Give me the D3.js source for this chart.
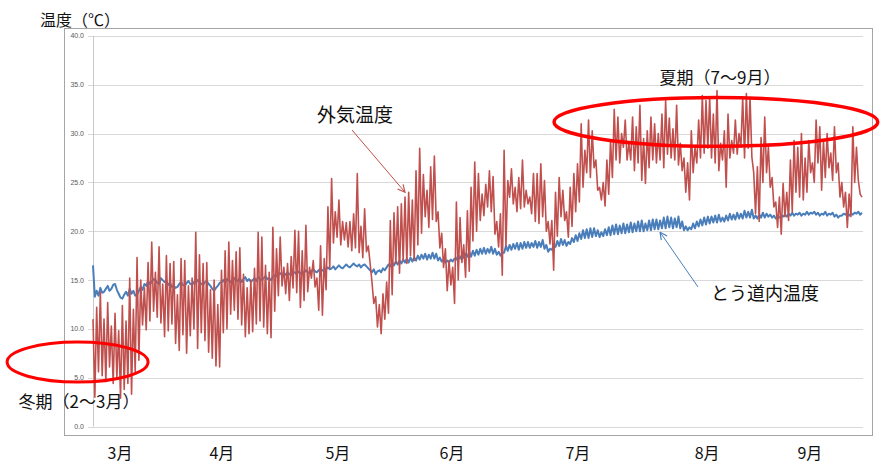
<!DOCTYPE html>
<html>
<head>
<meta charset="utf-8">
<script src="https://cdn.jsdelivr.net/npm/d3@7"></script>
<style>
  html, body { margin: 0; padding: 0; background: #fff; }
  svg { display: block; font-family: "Noto Sans CJK JP", "Noto Sans", sans-serif; }
</style>
</head>
<body>
<svg id="chart" width="880" height="464"></svg>
<script>
// Outdoor air temperature, two readings per day (afternoon high, night low), from late February
const outdoorTemp = [
  11.0,3.0, 12.2,5.6, 13.8,5.2, 11.0,4.6, 12.7,6.1, 10.3,4.4, 11.6,5.0, 9.8,2.9, 12.4,3.8, 10.8,4.4,
  15.2,3.3, 12.0,5.6, 17.3,6.8, 15.0,10.4, 14.2,9.9, 16.8,10.8, 18.9,11.8, 15.8,11.2, 18.4,10.6, 14.6,9.2,
  17.5,9.8, 16.7,10.5, 16.9,8.5, 13.5,7.8, 17.2,9.4, 17.0,7.5, 14.4,9.3, 15.2,10.0, 19.9,8.0, 17.6,9.6,
  16.7,8.8, 16.8,7.6, 14.0,7.0, 15.0,6.2, 12.5,6.1, 16.0,9.6, 18.0,10.0, 18.9,11.5, 17.0,11.9, 17.9,11.0,
  18.3,10.4, 15.6,9.2, 14.2,9.5, 15.0,9.7, 16.2,10.5, 19.9,10.8, 19.4,10.2, 16.5,9.5, 15.8,9.1, 20.4,11.8,
  18.2,13.4, 19.4,14.4, 16.3,13.6, 16.7,12.9, 17.4,14.2, 20.1,13.7, 20.0,12.2, 18.0,12.9, 20.6,13.8, 16.3,15.2,
  17.0,14.3, 15.2,11.9, 18.5,11.4, 17.2,14.0, 22.5,16.2, 25.4,18.8, 22.0,19.4, 23.2,18.6, 21.0,19.1, 20.9,18.4,
  21.0,18.0, 21.8,18.3, 25.9,17.8, 20.5,17.3, 22.3,17.9, 18.5,16.7, 14.8,12.6, 13.3,10.2, 12.5,9.5, 13.6,11.0,
  14.8,11.6, 21.1,13.5, 21.9,16.7, 22.5,15.7, 22.8,17.0, 23.5,16.7, 24.0,17.5, 23.2,17.0, 26.2,18.6, 28.5,19.8,
  25.8,21.5, 24.2,20.4, 26.6,21.2, 27.7,21.0, 22.0,18.3, 19.8,16.3, 18.2,13.9, 17.0,14.5, 16.3,12.6, 23.0,15.0,
  21.4,16.8, 18.6,15.3, 22.1,15.9, 24.5,19.0, 27.1,20.0, 25.9,21.1, 23.8,21.6, 24.8,22.5, 26.2,22.0, 25.6,19.7,
  21.0,18.4, 21.8,15.5, 28.3,18.5, 25.2,23.5, 26.4,22.8, 24.5,22.0, 25.5,22.3, 27.3,22.5, 24.2,22.8, 23.5,21.8,
  25.9,21.0, 25.9,20.8, 26.9,21.5, 25.2,20.0, 21.0,18.7, 21.1,16.0, 24.0,19.5, 25.5,21.5, 24.2,21.1, 22.0,19.4,
  24.5,20.5, 25.9,22.0, 26.9,23.0, 31.0,24.5, 28.3,26.0, 31.4,25.5, 30.3,26.5, 27.3,24.2, 24.5,23.2, 25.0,22.6,
  27.3,23.8, 29.3,25.5, 32.5,27.3, 31.7,27.0, 30.0,28.6, 31.4,27.3, 29.0,27.3, 31.7,26.2, 30.7,27.0, 32.9,25.2,
  29.5,24.9, 30.3,26.5, 31.7,27.3, 31.0,27.0, 30.0,27.3, 32.0,26.5, 33.4,27.9, 31.6,27.5, 30.5,27.3, 32.9,26.8,
  29.0,26.2, 27.5,24.0, 27.0,23.2, 30.3,26.0, 28.6,27.0, 31.4,27.5, 33.9,28.0, 33.4,28.5, 33.7,27.5, 32.0,27.0,
  34.4,26.2, 29.0,27.3, 30.3,24.5, 32.0,27.5, 29.3,28.0, 31.4,27.9, 30.0,28.6, 33.7,27.5, 34.1,28.5, 33.7,27.6,
  26.0,21.8, 26.6,21.0, 29.6,25.0, 31.7,26.0, 28.6,24.5, 25.5,22.5, 23.0,20.4, 23.5,19.7, 24.9,21.5, 24.0,21.1,
  27.3,22.0, 29.3,24.0, 28.6,23.5, 30.0,23.2, 27.5,24.0, 29.3,26.0, 27.0,25.0, 31.4,27.0, 30.7,24.2, 29.3,25.5,
  30.0,26.5, 28.0,25.2, 30.7,26.0, 27.0,23.5, 25.0,22.5, 24.0,20.4, 23.8,21.5, 30.7,25.0, 28.6,25.2, 23.8,23.5
];

// Temperature inside the utility tunnel, same sampling
const tunnelTemp = [
  16.5,13.3, 13.9,13.4, 14.2,13.7, 13.8,14.1, 14.4,13.9, 14.1,14.5, 14.6,14.0, 13.6,13.2, 13.1,13.5, 13.8,13.4,
  14.1,13.6, 13.9,13.4, 13.5,13.9, 14.3,14.0, 14.6,14.4, 14.9,14.6, 14.8,15.1, 15.0,14.7, 14.6,15.2, 15.0,14.8,
  14.9,14.5, 14.7,14.3, 14.4,14.2, 14.3,14.6, 14.8,14.5, 14.4,14.7, 14.9,14.6, 14.5,14.8, 14.7,15.0, 14.8,14.6,
  14.5,14.8, 14.9,14.6, 14.4,14.1, 13.9,14.2, 14.4,14.7, 14.8,15.0, 14.7,15.1, 15.0,14.8, 14.7,15.2, 15.0,14.9,
  15.2,14.8, 15.1,15.3, 14.9,15.1, 14.8,15.0, 15.2,14.9, 15.3,15.1, 15.0,15.2, 15.4,15.1, 15.2,15.0, 15.3,15.5,
  15.4,15.6, 15.7,15.5, 15.4,15.6, 15.8,15.6, 15.5,15.7, 15.8,15.6, 15.9,15.7, 15.6,15.8, 16.0,15.8, 15.7,15.9,
  16.1,15.9, 15.8,16.0, 16.2,16.0, 15.9,16.1, 16.3,16.1, 16.2,16.4, 16.1,16.3, 16.5,16.3, 16.2,16.4, 16.6,16.4,
  16.3,16.5, 16.7,16.5, 16.4,16.6, 16.3,16.5, 16.6,16.4, 16.2,16.0, 15.8,16.1, 15.6,15.9, 16.0,15.8, 16.2,16.0,
  16.3,16.6, 16.4,16.8, 16.5,16.9, 16.6,17.0, 16.7,17.1, 16.8,17.2, 16.8,17.3, 16.9,17.3, 17.0,17.5, 17.1,17.6,
  17.2,17.7, 17.1,17.6, 17.2,17.8, 17.2,17.7, 17.0,17.3, 16.9,17.1, 16.8,17.0, 16.8,17.1, 16.9,17.2, 17.1,17.5,
  17.2,17.6, 17.3,17.7, 17.4,17.9, 17.4,18.0, 17.5,18.1, 17.6,18.2, 17.7,18.3, 17.7,18.2, 17.8,18.4, 17.7,18.2,
  17.6,17.9, 17.5,17.8, 17.8,18.5, 18.0,18.6, 18.1,18.7, 18.2,18.8, 18.1,18.8, 18.2,18.9, 18.3,18.9, 18.3,18.8,
  18.4,19.0, 18.3,18.9, 18.4,19.1, 18.2,18.6, 17.9,18.2, 18.1,18.5, 18.4,19.0, 18.5,19.2, 18.6,19.1, 18.5,18.9,
  18.7,19.3, 18.9,19.6, 19.0,19.8, 19.2,20.1, 19.3,20.2, 19.3,20.3, 19.4,20.3, 19.5,20.1, 19.4,19.9, 19.5,20.2,
  19.6,20.4, 19.6,20.6, 19.7,20.7, 19.7,20.6, 19.8,20.8, 19.8,20.7, 19.9,20.9, 19.9,20.8, 20.0,21.0, 20.0,21.1,
  20.0,20.8, 20.1,21.1, 20.1,21.2, 20.2,21.2, 20.2,21.1, 20.3,21.4, 20.3,21.5, 20.4,21.4, 20.3,21.3, 20.4,21.5,
  20.3,21.0, 20.1,20.5, 20.1,20.4, 20.2,20.8, 20.3,21.0, 20.5,21.2, 20.6,21.4, 20.7,21.5, 20.8,21.5, 20.9,21.6,
  20.9,21.7, 21.0,21.4, 21.0,21.6, 21.1,21.8, 21.2,21.7, 21.2,21.9, 21.3,21.8, 21.3,22.1, 21.4,22.0, 21.4,22.2,
  21.3,21.6, 21.3,21.7, 21.4,21.9, 21.4,21.8, 21.5,21.7, 21.4,21.6, 21.3,21.5, 21.4,21.6, 21.5,21.7, 21.5,21.8,
  21.6,21.9, 21.6,21.8, 21.7,21.9, 21.6,21.8, 21.7,22.0, 21.7,21.9, 21.8,22.0, 21.7,21.9, 21.6,21.8, 21.7,22.0,
  21.6,21.8, 21.7,21.9, 21.5,21.7, 21.4,21.6, 21.6,21.8, 21.7,21.9, 21.6,21.8, 21.7,21.9, 21.8,22.0, 21.7,21.9
];

const readingsPerDay = 2;

// Y axis ticks (°C)
const yTicks = [0, 5, 10, 15, 20, 25, 30, 35, 40];

// Month labels and the day (counted from the first reading) where each is centred
const monthLabels = ["3月", "4月", "5月", "6月", "7月", "8月", "9月"];
const monthLabelDays = [7.35, 35.1, 66.7, 97.8, 132.1, 167.3, 195.3];

const svg = d3.select("#chart");

const plot = { left: 93, right: 862, top: 36, bottom: 426.5 };
const lastDay = (outdoorTemp.length - 1) / readingsPerDay;

const x = d3.scaleLinear().domain([0, lastDay]).range([plot.left, plot.right]);
const y = d3.scaleLinear().domain([0, 40]).range([plot.bottom, plot.top]);

// chart area frame
svg.append("rect")
  .attr("x", 64.5).attr("y", 28.5)
  .attr("width", 808).attr("height", 407)
  .attr("fill", "#fff")
  .attr("stroke", "#a5a5a5")
  .attr("stroke-width", 1);

// horizontal grid
svg.append("g")
  .selectAll("line")
  .data(yTicks)
  .join("line")
  .attr("x1", plot.left - 5)
  .attr("x2", plot.right + 1)
  .attr("y1", d => Math.round(y(d)) + 0.5)
  .attr("y2", d => Math.round(y(d)) + 0.5)
  .attr("stroke", "#d9d9d9")
  .attr("stroke-width", 1);

// y axis line
svg.append("line")
  .attr("x1", plot.left + 0.5).attr("x2", plot.left + 0.5)
  .attr("y1", y(40)).attr("y2", y(0))
  .attr("stroke", "#c8c8c8");

// y tick labels
svg.append("g")
  .selectAll("text")
  .data(yTicks)
  .join("text")
  .attr("x", 84)
  .attr("y", d => y(d))
  .attr("dy", "0.35em")
  .attr("text-anchor", "end")
  .attr("font-family", "Liberation Sans, Arial, sans-serif")
  .attr("font-size", 7)
  .attr("fill", "#595959")
  .text(d => d.toFixed(1));

// month labels
svg.append("g")
  .selectAll("text")
  .data(monthLabels)
  .join("text")
  .attr("x", (d, i) => x(monthLabelDays[i]))
  .attr("y", 459)
  .attr("text-anchor", "middle")
  .attr("font-size", 16)
  .attr("fill", "#111")
  .text(d => d);

const line = d3.line()
  .x((d, i) => x(i / readingsPerDay))
  .y(d => y(d));

svg.append("path")
  .datum(tunnelTemp)
  .attr("fill", "none")
  .attr("stroke", "#4a7ebb")
  .attr("stroke-width", 2)
  .attr("stroke-linejoin", "round")
  .attr("d", line);

svg.append("path")
  .datum(outdoorTemp)
  .attr("fill", "none")
  .attr("stroke", "#c0504d")
  .attr("stroke-width", 1.6)
  .attr("stroke-linejoin", "round")
  .attr("d", line);

// axis title
svg.append("text")
  .attr("x", 40).attr("y", 26)
  .attr("font-size", 16)
  .attr("fill", "#111")
  .text("温度（℃）");

// arrow heads
const defs = svg.append("defs");
function arrowMarker(id, color) {
  defs.append("marker")
    .attr("id", id)
    .attr("viewBox", "0 0 10 10")
    .attr("refX", 9).attr("refY", 5)
    .attr("markerWidth", 9).attr("markerHeight", 9)
    .attr("markerUnits", "userSpaceOnUse")
    .attr("orient", "auto")
    .append("path")
    .attr("d", "M1,1 L9,5 L1,9")
    .attr("fill", "none")
    .attr("stroke", color)
    .attr("stroke-width", 1.3);
}
arrowMarker("arrowRed", "#c0504d");
arrowMarker("arrowBlue", "#4a7ebb");

// outdoor temperature callout
svg.append("text")
  .attr("x", 355).attr("y", 122)
  .attr("text-anchor", "middle")
  .attr("font-size", 19)
  .attr("fill", "#111")
  .text("外気温度");
svg.append("line")
  .attr("x1", 352).attr("y1", 130)
  .attr("x2", x(85)).attr("y2", y(24.0))
  .attr("stroke", "#c0504d")
  .attr("stroke-width", 1)
  .attr("marker-end", "url(#arrowRed)");

// tunnel temperature callout
svg.append("text")
  .attr("x", 765).attr("y", 300)
  .attr("text-anchor", "middle")
  .attr("font-size", 18)
  .attr("fill", "#111")
  .text("とう道内温度");
svg.append("line")
  .attr("x1", 698).attr("y1", 287)
  .attr("x2", x(154.5)).attr("y2", y(19.9))
  .attr("stroke", "#4a7ebb")
  .attr("stroke-width", 1)
  .attr("marker-end", "url(#arrowBlue)");

// season highlights
svg.append("ellipse")
  .attr("cx", x(169.7)).attr("cy", y(31.2))
  .attr("rx", x(44.1) - x(0)).attr("ry", y(0) - y(2.5))
  .attr("fill", "none")
  .attr("stroke", "#ff0000")
  .attr("stroke-width", 3.5);
svg.append("text")
  .attr("x", 720).attr("y", 84)
  .attr("text-anchor", "middle")
  .attr("font-size", 17)
  .attr("fill", "#111")
  .text("夏期（7～9月）");

svg.append("ellipse")
  .attr("cx", x(-4.2)).attr("cy", y(6.6))
  .attr("rx", x(19.2) - x(0)).attr("ry", y(0) - y(2.05))
  .attr("fill", "none")
  .attr("stroke", "#ff0000")
  .attr("stroke-width", 3);
svg.append("text")
  .attr("x", 79).attr("y", 408)
  .attr("text-anchor", "middle")
  .attr("font-size", 17)
  .attr("fill", "#111")
  .text("冬期（2～3月）");
</script>
</body>
</html>
